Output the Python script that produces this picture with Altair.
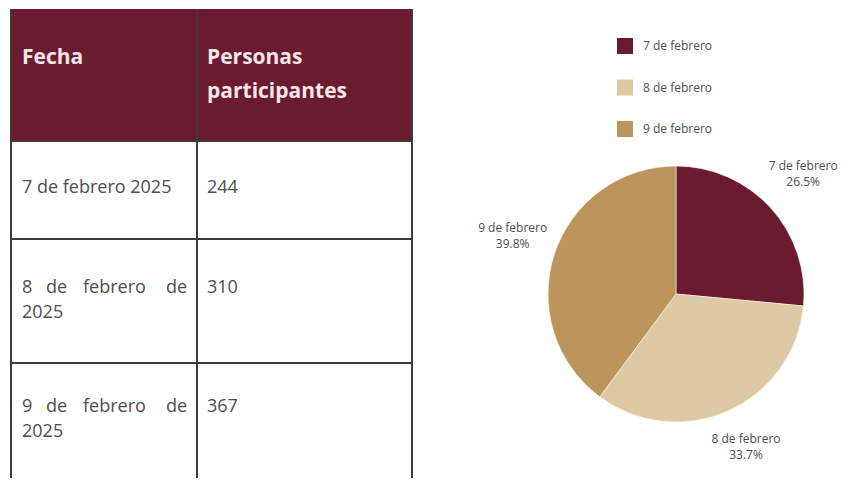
import altair as alt
import pandas as pd

# ---------------- data ----------------
header = ["Fecha", "Personas", "participantes"]
fechas = ["7 de febrero 2025", "8 de febrero de 2025", "9 de febrero de 2025"]
participantes = [244, 310, 367]
pie_labels = ["7 de febrero", "8 de febrero", "9 de febrero"]
pie_colors = ["#6B1B30", "#DDC9A3", "#BC955C"]

# ---------------- layout ----------------
W1, W2, H = 420, 412, 469
COL = [3, 189, 404]            # table column edges
ROW = [0, 132, 230, 354, 469]  # table row edges
TXT_X = 14
NUM_X = 199
JUST_X = [14, 38, 75, 179]     # justified first-line word positions
LINE_H = 25
FONT = "Open Sans"
MAROON = "#6B1B30"
GRID = "#3b3b3b"
TXT = "#4d4d4d"

xs = alt.Scale(domain=[0, W1], nice=False, zero=False)
ys = alt.Scale(domain=[0, H], nice=False, zero=False, reverse=True)

# header background
hdr_df = pd.DataFrame({"x": [COL[0]], "x2": [COL[2]], "y": [ROW[0]], "y2": [ROW[1]]})
hdr = alt.Chart(hdr_df).mark_rect(color=MAROON).encode(
    x=alt.X("x:Q", scale=xs, axis=None), x2="x2:Q",
    y=alt.Y("y:Q", scale=ys, axis=None), y2="y2:Q")

# grid lines
lines = []
for c in COL:
    lines.append({"x": c, "x2": c, "y": ROW[0], "y2": ROW[-1]})
for r in ROW[1:-1]:
    lines.append({"x": COL[0], "x2": COL[2], "y": r, "y2": r})
grid = alt.Chart(pd.DataFrame(lines)).mark_rule(color=GRID, strokeWidth=2).encode(
    x=alt.X("x:Q", scale=xs, axis=None), x2="x2:Q",
    y=alt.Y("y:Q", scale=ys, axis=None), y2="y2:Q")

# header text
hdr_txt = pd.DataFrame({
    "t": header,
    "x": [TXT_X, NUM_X, NUM_X],
    "y": [55, 55, 89],
})
hdr_text = alt.Chart(hdr_txt).mark_text(
    align="left", baseline="alphabetic", font=FONT, fontSize=21, fontWeight="bold",
    color="#F6E6E8").encode(
    x=alt.X("x:Q", scale=xs, axis=None), y=alt.Y("y:Q", scale=ys, axis=None), text="t:N")

# body text
recs = []
for i, (f, n) in enumerate(zip(fechas, participantes)):
    top, bot = ROW[i + 1], ROW[i + 2]
    words = f.split()
    if i == 0:
        yc = (top + bot) / 2 - 2
        recs.append({"t": f, "x": TXT_X, "y": yc, "a": "left"})
    else:
        yc = (top + bot) / 2 - LINE_H / 2 - 1
        first, rest = words[:4], words[4:]
        for j, w in enumerate(first):
            recs.append({"t": w, "x": JUST_X[j], "y": yc, "a": "right" if j == 3 else "left"})
        recs.append({"t": " ".join(rest), "x": TXT_X, "y": yc + LINE_H, "a": "left"})
    recs.append({"t": str(n), "x": NUM_X, "y": yc, "a": "left"})
body_df = pd.DataFrame(recs)
body_left = alt.Chart(body_df[body_df.a == "left"]).mark_text(
    align="left", baseline="middle", font=FONT, fontSize=18, color=TXT).encode(
    x=alt.X("x:Q", scale=xs, axis=None), y=alt.Y("y:Q", scale=ys, axis=None), text="t:N")
body_right = alt.Chart(body_df[body_df.a == "right"]).mark_text(
    align="right", baseline="middle", font=FONT, fontSize=18, color=TXT).encode(
    x=alt.X("x:Q", scale=xs, axis=None), y=alt.Y("y:Q", scale=ys, axis=None), text="t:N")

table = alt.layer(hdr, grid, hdr_text, body_left, body_right).properties(width=W1, height=H)

# ---------------- pie ----------------
total = sum(participantes)
pie_df = pd.DataFrame({
    "fecha": pie_labels,
    "valor": participantes,
    "orden": list(range(len(pie_labels))),
    "etiqueta": [f"{l}\n{v / total * 100:.1f}%" for l, v in zip(pie_labels, participantes)],
})
CX, CY, R = 248, 285, 128
color = alt.Color("fecha:N", scale=alt.Scale(domain=pie_labels, range=pie_colors), legend=None)

base = alt.Chart(pie_df).encode(
    theta=alt.Theta("valor:Q", stack=True), order=alt.Order("orden:Q"))
arc = base.mark_arc(outerRadius=R, stroke="#fffaf2", strokeWidth=0.6).encode(
    color=color, x=alt.value(CX), y=alt.value(CY))
arc_lbl = base.mark_text(radius=172, lineBreak="\n", font=FONT, fontSize=12, dy=-12,
                         color=TXT, lineHeight=16).encode(
    text="etiqueta:N", x=alt.value(CX), y=alt.value(CY))

leg_y = alt.Y("fecha:N", scale=alt.Scale(type="point", domain=pie_labels, range=[37, 120], padding=0),
              axis=None)
leg_sq = alt.Chart(pie_df).mark_point(shape="square", size=256, filled=True, opacity=1).encode(
    y=leg_y, x=alt.value(197), color=color)
leg_tx = alt.Chart(pie_df).mark_text(align="left", baseline="middle", font=FONT, fontSize=12,
                                     color=TXT).encode(
    y=leg_y, x=alt.value(215), text="fecha:N")

pie = alt.layer(arc, arc_lbl, leg_sq, leg_tx).properties(width=W2, height=H)

chart = alt.hconcat(table, pie, spacing=0).properties(
    padding=0, background="white"
).configure_view(stroke=None)

chart.save("out.html", embed_options={"renderer": "svg", "actions": False})
